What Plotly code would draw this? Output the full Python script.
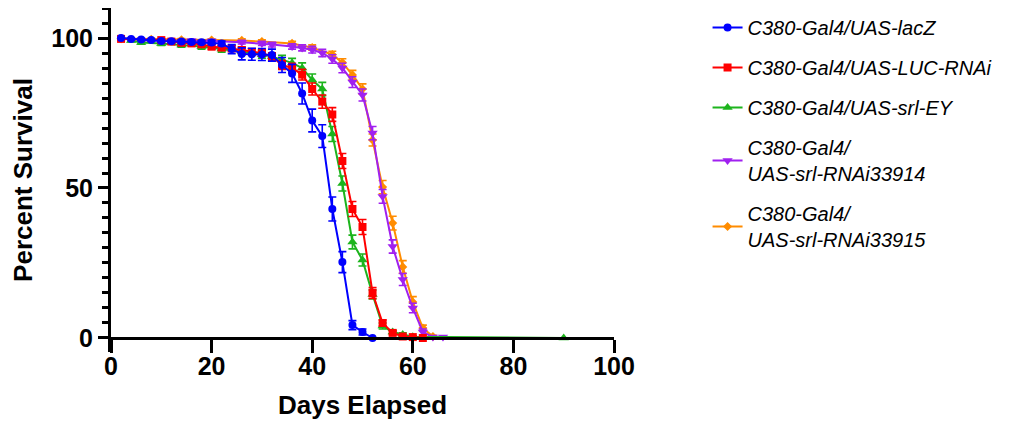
import plotly.graph_objects as go

# survival curves
names = ["<i>C380-Gal4/UAS-lacZ</i>",
         "<i>C380-Gal4/UAS-LUC-RNAi</i>",
         "<i>C380-Gal4/UAS-srl-EY</i>",
         "<i>C380-Gal4/<br>UAS-srl-RNAi33914</i>",
         "<i>C380-Gal4/<br>UAS-srl-RNAi33915</i>"]

lacz_days = [2, 4, 6, 8, 10, 12, 14, 16, 18, 20, 22, 24, 26, 28, 30, 32, 34, 36, 38, 40, 42, 44, 46, 48, 50, 52]
lacz_surv = [100, 99.7, 99.5, 99.3, 99.0, 98.9, 98.8, 98.7, 98.6, 98.5, 98.2, 96.3, 94.7, 94.6, 94.5, 94.3,
             91.0, 88.2, 81.5, 72.5, 67.3, 43.0, 25.3, 4.3, 2.0, 0.0]
lacz_err = [0, 0.3, 0.4, 0.4, 0.5, 0.5, 0.6, 0.6, 0.6, 0.7, 0.8, 1.5, 2.0, 2.0, 2.0, 2.0,
            2.5, 3.0, 3.5, 3.8, 3.8, 4.0, 3.5, 1.5, 1.0, 0]

luc_days = [2, 10, 12, 14, 16, 18, 20, 22, 24, 26, 28, 30, 32, 34, 36, 38, 40, 42, 44, 46, 48, 50, 52, 54, 56, 58, 60, 62]
luc_surv = [99.7, 99.3, 98.8, 98.4, 98.2, 97.9, 97.1, 96.8, 96.5, 96.0, 95.4, 95.0, 93.8, 91.0, 90.0, 87.8,
            83.0, 78.8, 74.5, 59.0, 43.0, 37.0, 15.0, 5.0, 1.7, 0.5, 0.3, 0.0]
luc_err = [0.3, 0.5, 0.6, 0.6, 0.7, 0.7, 0.8, 0.8, 0.9, 1.0, 1.0, 1.1, 1.3, 1.5, 1.6, 1.8,
           2.0, 2.2, 2.3, 2.5, 2.5, 2.5, 1.8, 1.0, 0.6, 0.4, 0.3, 0]

ey_days = [4, 6, 10, 14, 18, 22, 26, 30, 32, 34, 36, 38, 40, 42, 44, 46, 48, 50, 52, 54, 56, 58, 60, 90]
ey_surv = [99.2, 98.5, 98.2, 97.7, 97.2, 96.3, 95.5, 94.5, 93.8, 92.8, 91.7, 90.0, 86.0, 83.0, 68.0, 51.5,
           32.0, 26.0, 14.5, 4.0, 2.0, 1.2, 0.4, 0.0]
ey_err = [0.4, 0.6, 0.7, 0.8, 0.9, 1.0, 1.1, 1.2, 1.3, 1.4, 1.5, 1.7, 2.0, 2.2, 2.5, 2.5,
          2.3, 2.0, 1.5, 1.0, 0.6, 0.5, 0.3, 0]

r914_days = [6, 16, 20, 26, 30, 32, 36, 38, 40, 42, 44, 46, 48, 50, 52, 54, 56, 58, 60, 62, 64, 66]
r914_surv = [99.2, 99.1, 99.0, 98.6, 98.2, 97.8, 97.2, 96.7, 96.1, 95.0, 93.0, 90.0, 85.3, 81.0, 68.3, 47.2,
             30.5, 19.5, 10.0, 2.0, 0.3, 0.3]
r914_err = [0.4, 0.5, 0.5, 0.6, 0.7, 0.8, 0.9, 1.0, 1.1, 1.2, 1.4, 1.6, 1.8, 2.0, 2.2, 2.3,
            2.2, 2.0, 1.6, 1.0, 0.3, 0.3]

r915_days = [2, 8, 14, 20, 26, 30, 36, 40, 44, 46, 48, 50, 52, 54, 56, 58, 60, 62, 64]
r915_surv = [99.8, 99.6, 99.4, 99.3, 99.2, 98.8, 98.2, 96.8, 94.5, 91.8, 87.7, 83.0, 66.0, 50.3, 38.3,
             23.7, 12.0, 3.3, 0.5]
r915_err = [0.2, 0.3, 0.4, 0.4, 0.5, 0.6, 0.7, 0.9, 1.1, 1.3, 1.5, 1.7, 2.0, 2.2, 2.3,
            2.1, 1.8, 1.0, 0.4]

series = [
    (names[0], lacz_days, lacz_surv, lacz_err, "#0000FF", "circle", 8),
    (names[1], luc_days, luc_surv, luc_err, "#FF0000", "square", 8),
    (names[2], ey_days, ey_surv, ey_err, "#1DB41D", "triangle-up", 9),
    (names[3], r914_days, r914_surv, r914_err, "#A020F0", "triangle-down", 9),
    (names[4], r915_days, r915_surv, r915_err, "#FF8C00", "diamond", 7),
]

fig = go.Figure()

# draw back to front so lacZ sits on top
for i, (nm, d, s, e, col, sym, sz) in reversed(list(enumerate(series))):
    fig.add_trace(go.Scatter(
        x=d, y=s, name=nm, mode="lines+markers",
        line=dict(color=col, width=2),
        marker=dict(symbol=sym, size=sz, color=col),
        error_y=dict(type="data", array=e, color=col, thickness=1.6, width=4),
        legendgroup=str(i), legendrank=i,
    ))

# page body has an 8px margin, so the figure is nudged up/left to compensate
fig.update_layout(
    width=1009, height=431,
    margin=dict(l=103, r=403, t=0, b=87),
    plot_bgcolor="white", paper_bgcolor="white",
    font=dict(family="Liberation Sans, Arial", color="black"),
    showlegend=True,
    legend=dict(x=1.186, y=1.0, xanchor="left", yanchor="top",
                font=dict(size=20, family="Liberation Sans, Arial"),
                traceorder="grouped", tracegroupgap=11,
                bgcolor="rgba(0,0,0,0)"),
)

fig.update_xaxes(
    range=[0, 100], tickvals=[0, 20, 40, 60, 80, 100],
    showgrid=False, zeroline=False, automargin=False,
    showline=True, linecolor="black", linewidth=3,
    ticks="outside", ticklen=13, tickwidth=3, tickcolor="black",
    tickfont=dict(size=25, weight="bold"), ticklabelstandoff=-8,
    title=dict(text="<b>Days Elapsed</b>", font=dict(size=26), standoff=16),
    anchor="free", position=0.0407,
)

fig.update_yaxes(
    range=[-4.67, 110], tickvals=[0, 50, 100],
    showgrid=False, zeroline=False, automargin=False,
    showline=True, linecolor="black", linewidth=3,
    ticks="outside", ticklen=10, tickwidth=3, tickcolor="black",
    minor=dict(tickvals=[5, 10, 15, 20, 25, 30, 35, 40, 45, 55, 60, 65, 70, 75, 80, 85, 90, 95, 105, 110],
               ticks="outside", ticklen=6, tickwidth=3, tickcolor="black"),
    tickfont=dict(size=25, weight="bold"),
    title=dict(text="<b>Percent Survival</b>", font=dict(size=26), standoff=14),
)

fig.write_html("out.html")
